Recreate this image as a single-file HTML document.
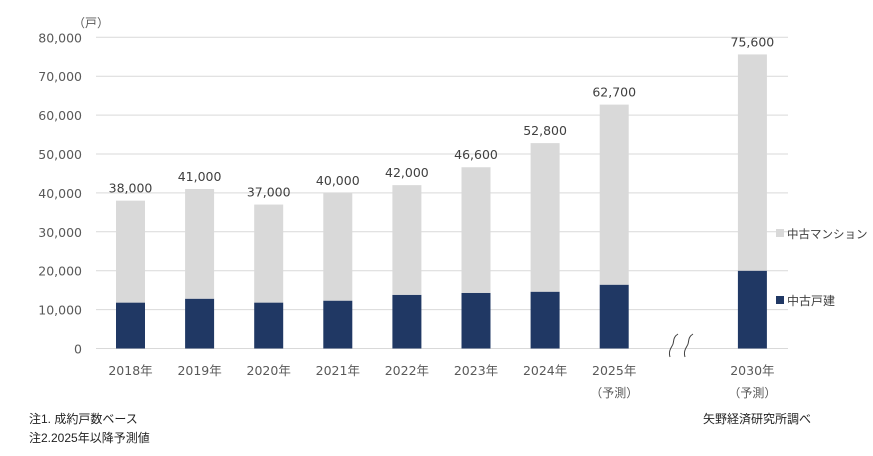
<!DOCTYPE html>
<html><head><meta charset="utf-8"><style>
body{margin:0;background:#fff;}
svg{display:block;font-family:"DejaVu Sans","Noto Sans CJK JP",sans-serif;}
</style></head><body>
<svg id="c" width="873" height="456"></svg>
<script>
const categories=["2018年","2019年","2020年","2021年","2022年","2023年","2024年","2025年","2030年"];
const slots=[0,1,2,3,4,5,6,7,9];
const kodate=[11800,12800,11800,12300,13800,14300,14600,16400,20000];
const totals=[38000,41000,37000,40000,42000,46600,52800,62700,75600];
const totalLabels=["38,000","41,000","37,000","40,000","42,000","46,600","52,800","62,700","75,600"];
const ticks=[0,10000,20000,30000,40000,50000,60000,70000,80000];
const tickLabels=["0","10,000","20,000","30,000","40,000","50,000","60,000","70,000","80,000"];
const forecast=[false,false,false,false,false,false,false,true,true];

const svg=document.getElementById('c');
const NS='http://www.w3.org/2000/svg';
const y=v=>348.5-v*(311.2/80000);
const x=s=>130.5+s*69.1;
const bw=29;
function mk(t,a,txt){const e=document.createElementNS(NS,t);for(const k in a)e.setAttribute(k,a[k]);if(txt!=null)e.textContent=txt;svg.appendChild(e);return e;}
ticks.forEach((t,i)=>{
 const g=mk('line',{x1:96,x2:788,y1:y(t),y2:y(t),stroke:'#d9d9d9','stroke-width':1});
 
 
 const l=mk('text',{x:82,y:y(t)+5,'text-anchor':'end','font-size':12.5,fill:'#595959'},tickLabels[i]);
 
 
});
const u=mk('text',{x:73,y:27,'font-size':12,fill:'#595959'},'（戸）');


categories.forEach((c,i)=>{
 const cx=x(slots[i]);
 const b1=mk('rect',{x:cx-bw/2,y:y(kodate[i]),width:bw,height:y(0)-y(kodate[i]),fill:'#203864'});
 
 
 const b2=mk('rect',{x:cx-bw/2,y:y(totals[i]),width:bw,height:y(kodate[i])-y(totals[i]),fill:'#d9d9d9'});
 
 
 const v=mk('text',{x:cx,y:y(totals[i])-8,'text-anchor':'middle','font-size':12.5,fill:'#404040'},totalLabels[i]);
 
 
 const cl=mk('text',{x:cx,y:375,'text-anchor':'middle','font-size':12.5,fill:'#595959'},c);
 
 
 if(forecast[i]){
  const f=mk('text',{x:cx,y:397,'text-anchor':'middle','font-size':12,fill:'#595959'},'（予測）');
  
  
 }
});
const sq=mk('path',{d:'M678 334 c-5 3 -4 7 -5 10 c-1 3 -5 6 -3 13 M693 334 c-5 3 -4 7 -5 10 c-1 3 -5 6 -3 13',fill:'none',stroke:'#404040','stroke-width':1});


</script>
<svg style="position:absolute;left:0;top:0" width="873" height="456">
<g font-family="Liberation Sans, Noto Sans CJK JP, sans-serif">
<rect x="776" y="229" width="8" height="8" fill="#d9d9d9"/>
<text x="787" y="238" font-size="11.5" fill="#404040">中古マンション</text>
<rect x="776" y="296" width="8" height="8" fill="#203864"/>
<text x="787" y="305" font-size="12" fill="#404040">中古戸建</text>
<text x="29" y="423" font-size="12" fill="#222">注1. 成約戸数ベース</text>
<text x="29" y="442" font-size="12" fill="#222">注2.2025年以降予測値</text>
<text x="703" y="423" font-size="12" fill="#222">矢野経済研究所調べ</text>
</g></svg>
</body></html>
